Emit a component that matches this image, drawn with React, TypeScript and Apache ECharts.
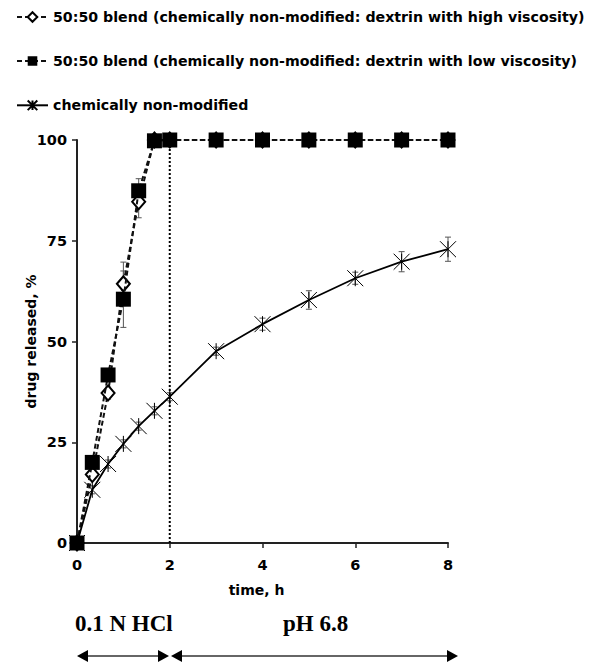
import React, { useEffect, useRef } from "react";
import * as echarts from "echarts";

const times = [0, 0.33, 0.67, 1, 1.33, 1.67, 2, 3, 4, 5, 6, 7, 8];
const highVisc = [0, 17, 37.2, 64.3, 84.7, 100, 100, 100, 100, 100, 100, 100, 100];
const highViscErr = [0, 1, 1.5, 5.4, 4, 0, 0, 0, 0, 0, 0, 0, 0];
const lowVisc = [0, 20, 41.7, 60.5, 87.4, 99.8, 100, 100, 100, 100, 100, 100, 100];
const lowViscErr = [0, 1.5, 1.5, 7, 3, 0, 0, 0, 0, 0, 0, 0, 0];
const nonMod = [0, 13.2, 19.6, 24.6, 29, 32.8, 36.3, 47.6, 54.3, 60.3, 65.7, 69.8, 72.9];
const nonModErr = [0, 1, 1, 1, 1, 1, 1, 1, 1.5, 2.3, 1.5, 2.5, 3];
const yTicks = [0, 25, 50, 75, 100];
const xTicks = [0, 2, 4, 6, 8];
const seriesNames = [
  "50:50 blend (chemically non-modified: dextrin with high viscosity)",
  "50:50 blend (chemically non-modified: dextrin with low viscosity)",
  "chemically non-modified",
];
const phaseLabels = ["0.1 N HCl", "pH 6.8"];
const phaseBoundary = 2;

const FONT = "DejaVu Sans";

function errData(vals: number[], errs: number[]) {
  return times
    .map((t, i) => [t, vals[i] - errs[i], vals[i] + errs[i]])
    .filter((d, i) => errs[i] > 0);
}

function errSeries(data: number[][]) {
  return {
    type: "custom",
    silent: true,
    z: 1,
    renderItem: (params: any, api: any) => {
      const x = api.value(0);
      const lo = api.coord([x, api.value(1)]);
      const hi = api.coord([x, api.value(2)]);
      const c = 3;
      const style = { stroke: "#555", lineWidth: 1 };
      return {
        type: "group",
        children: [
          { type: "line", shape: { x1: lo[0], y1: lo[1], x2: hi[0], y2: hi[1] }, style },
          { type: "line", shape: { x1: lo[0] - c, y1: lo[1], x2: lo[0] + c, y2: lo[1] }, style },
          { type: "line", shape: { x1: hi[0] - c, y1: hi[1], x2: hi[0] + c, y2: hi[1] }, style },
        ],
      };
    },
    data,
  };
}

function arrow(x1: number, x2: number, y: number) {
  const h = 6;
  const w = 11;
  return [
    { type: "line", shape: { x1: x1 + 2, y1: y, x2: x2 - 2, y2: y }, style: { stroke: "#333", lineWidth: 1.5 } },
    { type: "polygon", shape: { points: [[x1, y], [x1 + w, y - h], [x1 + w, y + h]] }, style: { fill: "#000" } },
    { type: "polygon", shape: { points: [[x2, y], [x2 - w, y - h], [x2 - w, y + h]] }, style: { fill: "#000" } },
  ];
}

export default function App() {
  const ref = useRef<HTMLDivElement>(null);
  useEffect(() => {
    if (!ref.current) return;
    const chart = echarts.init(ref.current, null, { renderer: "svg" });
    const labelStyle = { fontFamily: FONT, fontWeight: "bold", fontSize: 14, color: "#000" };
    chart.setOption({
      animation: false,
      backgroundColor: "#fff",
      legend: {
        orient: "vertical",
        left: 14,
        top: 8,
        padding: 2,
        itemWidth: 31,
        itemHeight: 12,
        itemGap: 30,
        data: seriesNames,
        textStyle: { fontFamily: FONT, fontWeight: "bold", fontSize: 14.2, color: "#000" },
      },
      grid: { left: 77, right: 144, top: 140, bottom: 125 },
      xAxis: {
        type: "value",
        min: 0,
        max: 8,
        interval: 2,
        name: "time, h",
        nameLocation: "middle",
        nameGap: 40,
        nameMoveOverlap: false,
        nameTextStyle: { ...labelStyle, padding: [0, 12, 0, 0] },
        axisLine: { lineStyle: { color: "#222", width: 2 } },
        axisTick: { inside: false, length: 5, lineStyle: { color: "#222", width: 1.5 } },
        axisLabel: { ...labelStyle, fontSize: 14.5, margin: 14, formatter: (v: number) => (xTicks.includes(v) ? String(v) : "") },
        splitLine: { show: false },
      },
      yAxis: {
        type: "value",
        min: 0,
        max: 100,
        interval: 25,
        name: "drug released, %",
        nameLocation: "middle",
        nameGap: 39,
        nameMoveOverlap: false,
        nameTextStyle: labelStyle,
        axisLine: { show: true, lineStyle: { color: "#222", width: 2 } },
        axisTick: { show: true, inside: false, length: 5, lineStyle: { color: "#222", width: 1.5 } },
        axisLabel: { ...labelStyle, fontSize: 14.5, margin: 10, formatter: (v: number) => (yTicks.includes(v) ? String(v) : "") },
        splitLine: { show: false },
      },
      series: [
        {
          type: "line",
          name: "phase boundary",
          data: [[phaseBoundary, 0], [phaseBoundary, 100]],
          symbol: "none",
          lineStyle: { color: "#000", width: 2, type: [2, 2] },
          z: 1,
        },
        errSeries(errData(highVisc, highViscErr)),
        errSeries(errData(lowVisc, lowViscErr)),
        errSeries(errData(nonMod, nonModErr)),
        {
          type: "line",
          name: seriesNames[0],
          data: times.map((t, i) => [t, highVisc[i]]),
          symbol: "emptyDiamond",
          symbolSize: [13, 15],
          itemStyle: { color: "#000", borderColor: "#000", borderWidth: 1 },
          lineStyle: { color: "#111", width: 2, type: [5, 3] },
          z: 3,
        },
        {
          type: "line",
          name: seriesNames[1],
          data: times.map((t, i) => [t, lowVisc[i]]),
          symbol: "rect",
          symbolSize: 15,
          itemStyle: { color: "#000" },
          lineStyle: { color: "#111", width: 2, type: [5, 3] },
          z: 4,
        },
        {
          type: "line",
          name: seriesNames[2],
          data: times.map((t, i) => [t, nonMod[i]]),
          symbol: "path://M0,0L12,12M12,0L0,12M6,0L6,12",
          symbolSize: 16,
          itemStyle: { color: "none", borderColor: "#000", borderWidth: 1 },
          lineStyle: { color: "#000", width: 1.8 },
          z: 5,
        },
      ],
      graphic: [
        {
          type: "text",
          left: 75,
          top: 612,
          style: { text: phaseLabels[0], font: "bold 23px 'Liberation Serif'", fill: "#000" },
        },
        {
          type: "text",
          left: 283,
          top: 612,
          style: { text: phaseLabels[1], font: "bold 23px 'Liberation Serif'", fill: "#000" },
        },
        ...arrow(77, 169, 656),
        ...arrow(171, 458, 656),
      ],
    });
    return () => chart.dispose();
  }, []);
  return <div ref={ref} style={{ width: 592, height: 668, position: "absolute", left: 0, top: 0 }} />;
}
